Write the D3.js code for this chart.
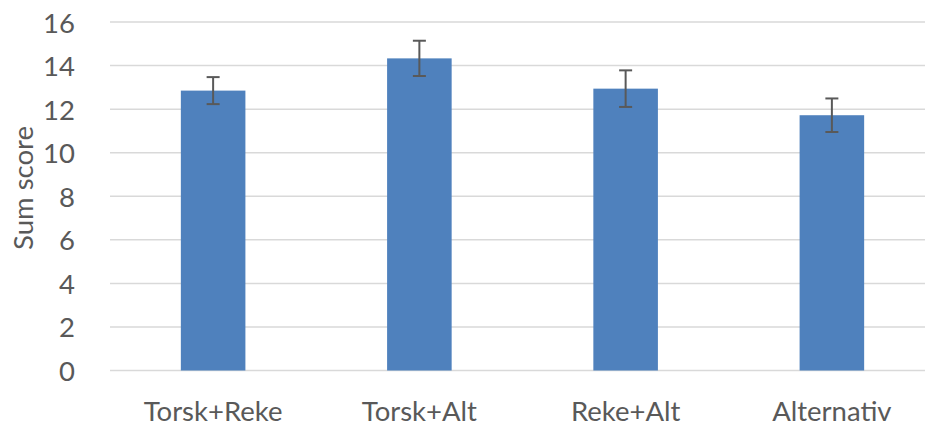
<!DOCTYPE html>
<html>
<head>
<meta charset="utf-8">
<script src="https://cdn.jsdelivr.net/npm/d3@7"></script>
<style>
  html, body { margin: 0; padding: 0; background: #fff; overflow: hidden; }
  svg { display: block; }
  text { font-family: Lato, "Open Sans", sans-serif; fill: #595959; }
</style>
</head>
<body>
<svg id="chart" width="925" height="425"></svg>
<script>
const categories = ["Torsk+Reke", "Torsk+Alt", "Reke+Alt", "Alternativ"];
const means = [12.85, 14.33, 12.94, 11.72];
const errors = [0.62, 0.81, 0.84, 0.77];
const yTicks = [0, 2, 4, 6, 8, 10, 12, 14, 16];
const yTitle = "Sum score";

(function () {
const svg = d3.select("#chart");
const mLeft = 110, mRight = 935, mTop = 22, mBottom = 370.5;
const fs = "27.5px";

const x = d3.scaleBand().domain(categories).range([mLeft, mRight])
  .paddingInner(0.687).paddingOuter(0.3435);
const y = d3.scaleLinear().domain([0, 16]).range([mBottom, mTop]);

// gridlines
svg.append("g").selectAll("line").data(yTicks).join("line")
  .attr("x1", mLeft).attr("x2", 925)
  .attr("y1", d => y(d)).attr("y2", d => y(d))
  .attr("stroke", "#d9d9d9").attr("stroke-width", 1.5);

// y tick labels
svg.append("g").selectAll("text").data(yTicks).join("text")
  .attr("x", 75).attr("y", d => y(d))
  .attr("text-anchor", "end").attr("dominant-baseline", "central")
  .style("font-size", fs)
  .text(d => d);

// bars
svg.append("g").selectAll("rect").data(categories).join("rect")
  .attr("x", d => x(d)).attr("width", x.bandwidth())
  .attr("y", (d, i) => y(means[i]))
  .attr("height", (d, i) => y(0) - y(means[i]))
  .attr("fill", "#4f81bd");

// error bars
const eb = svg.append("g").attr("stroke", "#595959").attr("stroke-width", 2);
categories.forEach((c, i) => {
  const cx = x(c) + x.bandwidth() / 2;
  const hi = y(means[i] + errors[i]), lo = y(means[i] - errors[i]);
  eb.append("line").attr("x1", cx).attr("x2", cx).attr("y1", hi).attr("y2", lo);
  eb.append("line").attr("x1", cx - 6.5).attr("x2", cx + 6.5).attr("y1", hi).attr("y2", hi);
  eb.append("line").attr("x1", cx - 6.5).attr("x2", cx + 6.5).attr("y1", lo).attr("y2", lo);
});

// x labels
svg.append("g").selectAll("text").data(categories).join("text")
  .attr("x", d => x(d) + x.bandwidth() / 2).attr("y", 410)
  .attr("text-anchor", "middle").attr("dominant-baseline", "central")
  .style("font-size", fs)
  .text(d => d);

// y title
svg.append("text")
  .attr("transform", "translate(22,188) rotate(-90)")
  .attr("text-anchor", "middle").attr("dominant-baseline", "central")
  .style("font-size", fs)
  .text(yTitle);
})();
</script>
</body>
</html>
